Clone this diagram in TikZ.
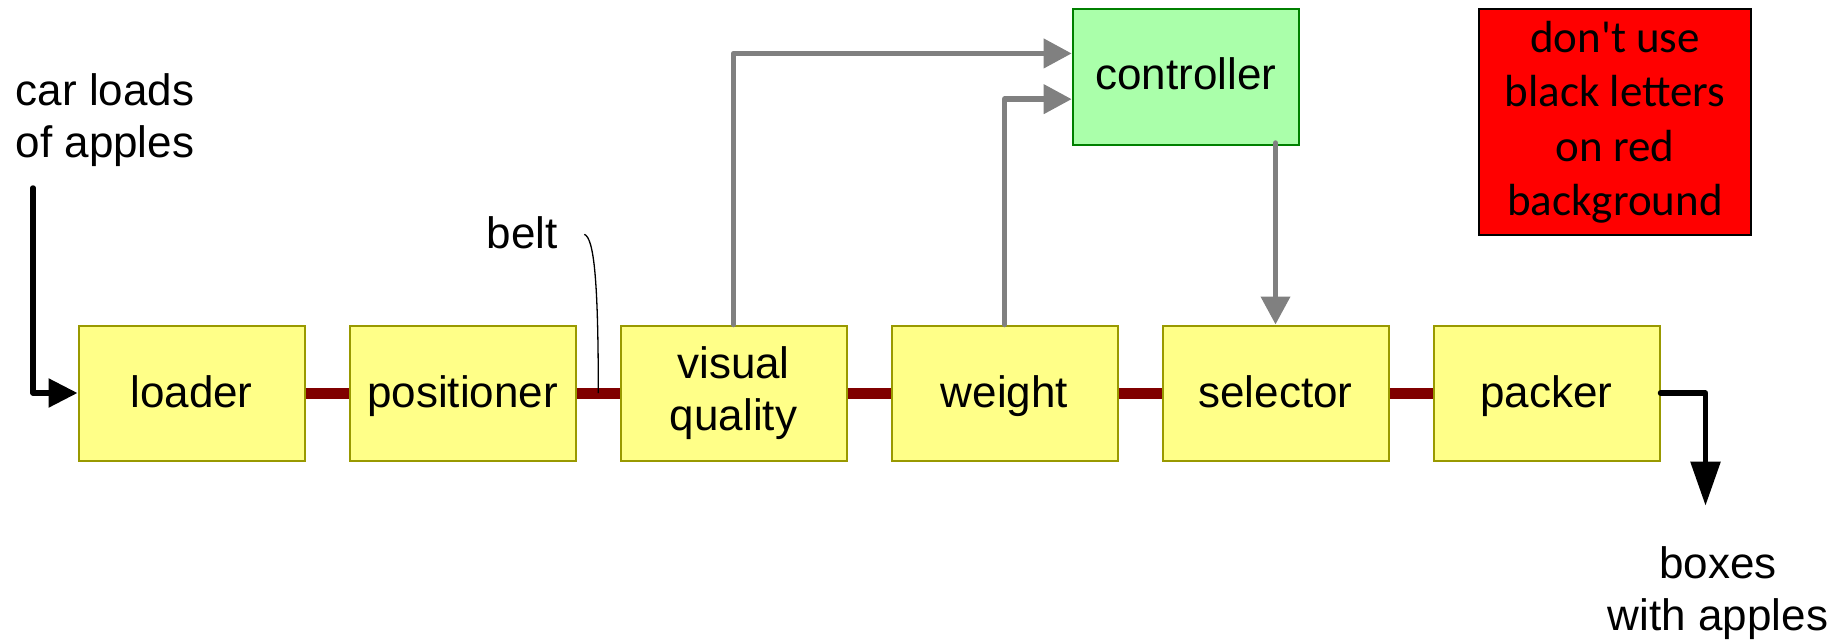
\documentclass[tikz,border=0pt]{standalone}
\usepackage{fontspec}
\setmainfont{Liberation Sans}
\newfontfamily\calfont{Carlito}
\usetikzlibrary{arrows.meta}
\definecolor{boxfill}{RGB}{255,255,136}
\definecolor{boxline}{RGB}{153,153,0}
\definecolor{ctrlfill}{RGB}{170,255,170}
\definecolor{ctrlline}{RGB}{0,128,0}
\definecolor{beltcol}{RGB}{128,0,0}
\definecolor{sigcol}{RGB}{128,128,128}
\definecolor{warnfill}{RGB}{255,0,0}
\begin{document}
\begin{tikzpicture}[x=1pt,y=-1pt,
  bigfont/.style={font=\fontsize{44}{52}\selectfont},
  stage/.style={bigfont, draw=boxline, fill=boxfill, line width=2pt,
    minimum width=226pt, minimum height=135pt, inner sep=0pt, align=center},
  oneline/.style={text height=32pt, text depth=3pt},
  ctrlbox/.style={bigfont, draw=ctrlline, fill=ctrlfill, line width=2pt,
    minimum width=226.3pt, minimum height=135.7pt, inner sep=0pt,
    text height=32pt, text depth=8pt},
  warnbox/.style={font=\calfont\fontsize{45}{54.5}\selectfont, draw=black, fill=warnfill,
    line width=2pt, minimum width=271.4pt, minimum height=225.7pt, inner sep=0pt, align=center},
  lbl/.style={bigfont, inner sep=0pt},
  belt/.style={draw=beltcol, line width=11pt},
  sig/.style={draw=sigcol, line width=5.5pt, line cap=round, line join=round,
    -{Triangle[length=28pt,width=28.5pt]}},
  flowin/.style={draw=black, line width=5.5pt, line cap=round, line join=round,
    -{Triangle[length=29pt,width=28pt]}},
  flowout/.style={draw=black, line width=5.5pt, line cap=round, line join=round,
    -{Triangle[length=44pt,width=29pt]}},
  leader/.style={draw=black, line width=1.3pt}
]
\useasboundingbox (0,0) rectangle (1843,640);

% stages
\node[stage, oneline] (ld) at (191.5,393) {loader};
\node[stage, oneline] (ps) at (462.5,393) {positioner};
\node[stage] (vq) at (733.5,393) {visual\\quality};
\node[stage, oneline] (wt) at (1004.5,393) {weight};
\node[stage, oneline] (sel) at (1275.5,393) {selector};
\node[stage, oneline] (pk) at (1546.5,393) {packer};

% controller and warning
\node[ctrlbox] (ctrl) at (1185.85,77.15) {controller};
\node[warnbox] (warn) at (1615,122.2) {don't use\\black letters\\on red\\background};

% belt
\draw[belt] (ld.east) -- (ps.west);
\draw[belt] (ps.east) -- (vq.west);
\draw[belt] (vq.east) -- (wt.west);
\draw[belt] (wt.east) -- (sel.west);
\draw[belt] (sel.east) -- (pk.west);

% signals
\draw[sig] (vq.north) |- ([yshift=23.7pt]ctrl.west);
\draw[sig] (wt.north) |- ([yshift=-22pt]ctrl.west);
\draw[sig] ([yshift=3pt]sel.north |- ctrl.south) -- (sel.north);

% input / output
\coordinate (inTop) at (33,188);
\coordinate (outEnd) at (1705.5,505.7);
\draw[flowin] (inTop) |- (ld.west);
\draw[flowout] (pk.east) -| (outEnd);

% labels
\node[lbl, anchor=north west, align=left] (cartxt) at (15.5,73) {car loads\\of apples};
\node[lbl, anchor=base west] (belttxt) at (486.5,248.3) {belt};
\node[lbl, anchor=north, align=center] (boxtxt) at (1718,546) {boxes\\with apples};

% belt leader
\coordinate (beltA) at (584.3,234.3);
\coordinate (beltB) at (598.3,393);
\draw[leader] (beltA) .. controls (594,238) and (598.3,280) .. (beltB);
\end{tikzpicture}
\end{document}
